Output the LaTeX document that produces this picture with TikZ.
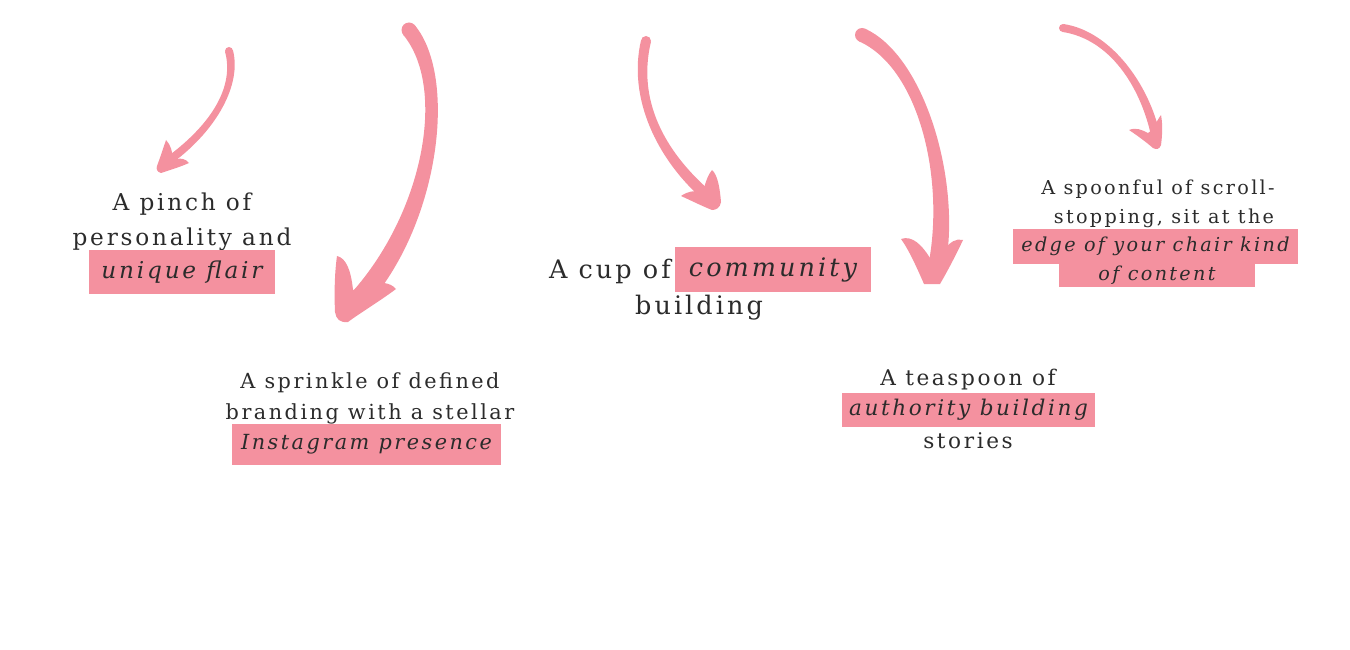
\documentclass[tikz,border=0pt]{standalone}
\usepackage{fontspec}
\setmainfont{DejaVu Serif}[LetterSpace=12]
\usetikzlibrary{calc}
\definecolor{pk}{HTML}{F4919F}
\definecolor{ink}{HTML}{2B2B2B}
% tapered brush stroke: start, c1, c2, end, half width at start, half width at end
\newcommand\brushstroke[6]{%
  \fill[pk] ($#1!#5!90:#2$) .. controls ($#2!#5!-90:#1$) and ($#3!#6!90:#4$) .. ($#4!#6!-90:#3$)
    -- ($#4!#6!90:#3$) .. controls ($#3!#6!-90:#4$) and ($#2!#5!90:#1$) .. ($#1!#5!-90:#2$) -- cycle;
  \fill[pk] #1 circle[radius=#5];
  \fill[pk] #4 circle[radius=#6];
}
\begin{document}
\begin{tikzpicture}[x=1pt,y=-1pt,
  txt/.style={text=ink, inner sep=0pt},
  hl/.style={fill=pk, text=ink, inner sep=0pt},
  head/.style={fill=pk},
  fa/.style={font=\fontsize{23.2}{28}\selectfont},
  fb/.style={font=\fontsize{20.8}{24}\selectfont},
  fc/.style={font=\fontsize{25.5}{30}\selectfont},
  fd/.style={font=\fontsize{21.6}{26}\selectfont},
  fe/.style={font=\fontsize{19.2}{23}\selectfont},
]
\useasboundingbox (0,0) rectangle (1350,650);

% block 1
\node[txt, fa, anchor=base] (p1) at (182,210) {A pinch of};
\node[txt, fa, anchor=base] (p2) at (182,245) {personality and};
\node[hl, fa, minimum width=186pt, minimum height=44pt] (p3) at (182,272) {\itshape unique flair};

% block 2
\node[txt, fb, anchor=base] (s1) at (370,388) {A sprinkle of defined};
\node[txt, fb, anchor=base] (s2) at (370,419) {branding with a stellar};
\node[hl, fb, minimum width=269pt, minimum height=41pt] (s3) at (366.5,444.5) {\itshape Instagram presence};

% block 3
\node[txt, fc, anchor=base east] (c1) at (671,278) {A cup of};
\node[hl, fc, minimum width=196pt, minimum height=45pt] (c2) at (773,269.5) {\itshape community};
\node[txt, fc, anchor=base] (c3) at (699,314) {building};

% block 4
\node[txt, fd, anchor=base] (t1) at (968,385) {A teaspoon of};
\node[hl, fd, minimum width=253pt, minimum height=34pt] (t2) at (968.5,410) {\itshape authority building};
\node[txt, fd, anchor=base] (t3) at (968,448) {stories};

% block 5
\node[txt, fe, anchor=base] (f1) at (1158,194) {A spoonful of scroll-};
\node[txt, fe, anchor=base] (f2) at (1164,223) {stopping, sit at the};
\node[hl, minimum width=196pt, minimum height=23pt] (f4) at (1157,275) {};
\node[hl, fe, minimum width=285pt, minimum height=35pt] (f3) at (1155.5,246.5) {\itshape edge of your chair kind};
\node[txt, fe, anchor=base] (f5) at (1157,280) {\itshape of content};

% arrow 1
\brushstroke{(229,51)}{(238,85)}{(215,126)}{(171,159)}{4pt}{4pt}
\fill[head] (166,140) .. controls (171,145) and (172,152) .. (173,157) -- (177,159)
  .. controls (181,158) and (186,159) .. (189,163) .. controls (180,167) and (170,170) .. (161,173)
  .. controls (157,172) and (156,169) .. (157,166) .. controls (160,158) and (163,149) .. (166,140) -- cycle;
% arrow 2
\brushstroke{(409,30)}{(452,82)}{(432,215)}{(362,296)}{7.5pt}{10pt}
\fill[head] (337,256) .. controls (346,258) and (351,270) .. (353,290) -- (372,284)
  .. controls (380,282) and (390,282) .. (396,289) .. controls (380,301) and (360,313) .. (348,322)
  .. controls (340,323) and (336,319) .. (335,312) .. controls (334,290) and (335,270) .. (337,256) -- cycle;
% arrow 3
\brushstroke{(646,41)}{(632,100)}{(662,155)}{(703,192)}{5pt}{5.5pt}
\fill[head] (712,170) .. controls (718,175) and (720,190) .. (721,202) .. controls (720,208) and (716,210) .. (712,210)
  .. controls (702,206) and (692,201) .. (681,196) .. controls (688,191) and (694,191) .. (700,191) -- (704,188)
  .. controls (706,181) and (708,175) .. (712,170) -- cycle;
% arrow 4
\brushstroke{(862,35)}{(922,62)}{(953,180)}{(937,265)}{7pt}{8.5pt}
\fill[head] (901,239) .. controls (912,235) and (922,245) .. (930,258) -- (944,250)
  .. controls (950,242) and (956,238) .. (963,240) .. controls (956,255) and (947,272) .. (940,284)
  -- (924,284) .. controls (917,268) and (909,250) .. (901,239) -- cycle;
% arrow 5
\brushstroke{(1063,28)}{(1110,35)}{(1145,85)}{(1156,137)}{4pt}{4.5pt}
\fill[head] (1161,115) .. controls (1163,125) and (1162,138) .. (1161,145) .. controls (1160,149) and (1156,150) .. (1153,148)
  .. controls (1146,142) and (1138,136) .. (1129,130) .. controls (1136,127) and (1142,130) .. (1148,133) -- (1152,130)
  .. controls (1155,125) and (1158,119) .. (1161,115) -- cycle;
\end{tikzpicture}
\end{document}
